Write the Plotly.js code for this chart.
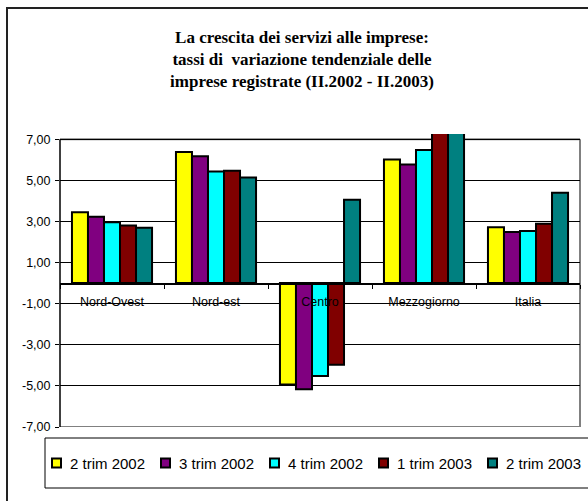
<!DOCTYPE html>
<html>
<head>
<meta charset="utf-8">
<script src="https://cdn.plot.ly/plotly-3.0.1.min.js"></script>
<style>html,body{margin:0;padding:0;background:#fff;}#chart{width:588px;height:501px;}</style>
</head>
<body>
<div id="chart"></div>
<script>
// ---- data ----
var categories = ['Nord-Ovest', 'Nord-est', 'Centro', 'Mezzogiorno', 'Italia'];
var seriesNames = ['2 trim 2002', '3 trim 2002', '4 trim 2002', '1 trim 2003', '2 trim 2003'];
var trim2_2002 = [3.45, 6.38, -4.93, 6.01, 2.72];
var trim3_2002 = [3.22, 6.17, -5.17, 5.77, 2.48];
var trim4_2002 = [2.96, 5.43, -4.52, 6.47, 2.53];
var trim1_2003 = [2.80, 5.46, -3.97, 7.60, 2.88];
var trim2_2003 = [2.69, 5.13, 4.05, 7.90, 4.39];
var yTickVals = [-7, -5, -3, -1, 1, 3, 5, 7];
var yTickText = ['-7,00', '-5,00', '-3,00', '-1,00', '1,00', '3,00', '5,00', '7,00'];
var titleLines = ['La crescita dei servizi alle imprese:', 'tassi di&nbsp; variazione tendenziale delle', 'imprese registrate (II.2002 - II.2003)'];

var seriesValues = [trim2_2002, trim3_2002, trim4_2002, trim1_2003, trim2_2003];
var colors = ['#FFFF00', '#800080', '#00FFFF', '#800000', '#008080'];

// ---- geometry (pixels) ----
var W = 588, H = 501;
var mL = 60, mR = 8, mT = 134, mB = 74;
var pw = W - mL - mR, ph = H - mT - mB;
var yMin = -7, yMax = 7.25;
function px2x(p) { return (p - mL) / pw; }
function px2y(p) { return (H - mB - p) / ph; }

var traces = seriesValues.map(function (vals, i) {
  return {
    type: 'bar',
    name: seriesNames[i],
    x: categories,
    y: vals,
    marker: { color: colors[i], line: { color: '#000', width: 2 } },
    hoverinfo: 'x+y+name'
  };
});

var sans = 'Liberation Sans, Arial, sans-serif';

var shapes = [
  // plot area border (grey top/right/bottom)
  { type: 'line', xref: 'paper', yref: 'y', x0: 0, x1: 1, y0: 7, y1: 7, line: { color: '#808080', width: 2 }, layer: 'below' },
  { type: 'line', xref: 'paper', yref: 'y', x0: 1, x1: 1, y0: -7, y1: 7, line: { color: '#808080', width: 2 }, layer: 'below' },
  { type: 'line', xref: 'paper', yref: 'y', x0: 0, x1: 1, y0: -7, y1: -7, line: { color: '#808080', width: 2 }, layer: 'below' },
  // left value axis line
  { type: 'line', xref: 'paper', yref: 'y', x0: 0, x1: 0, y0: -7, y1: 7, line: { color: '#000', width: 1.5 } },
  // legend box
  { type: 'rect', xref: 'paper', yref: 'paper', x0: px2x(45), x1: px2x(620), y0: px2y(488), y1: px2y(438), line: { color: '#000', width: 1 }, fillcolor: 'rgba(0,0,0,0)' },
  // outer chart frame
  { type: 'rect', xref: 'paper', yref: 'paper', x0: px2x(7), x1: px2x(650), y0: px2y(560), y1: px2y(8), line: { color: '#222', width: 2 }, fillcolor: 'rgba(0,0,0,0)' }
];
var annotations = [];

// legend entries (built from the series names and colours)
var legY = 463, legStep = 109, legSq0 = 52, legTxt0 = 68, sq = 9;
seriesNames.forEach(function (nm, i) {
  var sx = legSq0 + legStep * i;
  shapes.push({ type: 'rect', xref: 'paper', yref: 'paper',
    x0: px2x(sx), x1: px2x(sx + sq), y0: px2y(legY + sq / 2), y1: px2y(legY - sq / 2),
    fillcolor: colors[i], line: { color: '#000', width: 2 } });
  annotations.push({ xref: 'paper', yref: 'paper', x: px2x(legTxt0 + legStep * i), y: px2y(legY),
    xanchor: 'left', yanchor: 'middle', showarrow: false, text: nm,
    font: { family: sans, size: 15, color: '#000' } });
});

var layout = {
  width: W, height: H,
  margin: { l: mL, r: mR, t: mT, b: mB, pad: 0 },
  paper_bgcolor: '#fff', plot_bgcolor: 'rgba(0,0,0,0)',
  barmode: 'group', bargap: 0.23, bargroupgap: 0,
  title: {
    text: '<b>' + titleLines.join('<br>') + '</b>',
    font: { family: 'Liberation Serif, Times New Roman, serif', size: 17, color: '#000' },
    xref: 'container', x: 302 / W, xanchor: 'center',
    yref: 'container', y: 1 - 43 / H, yanchor: 'top'
  },
  xaxis: {
    type: 'category',
    anchor: 'free', position: (0 - yMin) / (yMax - yMin),
    showline: true, linecolor: '#000', linewidth: 1.5,
    ticks: 'outside', tickson: 'boundaries', ticklen: 4, tickcolor: '#000', tickwidth: 1,
    showgrid: false, zeroline: false,
    tickfont: { family: sans, size: 12.5, color: '#000' },
    ticklabelstandoff: 6,
    fixedrange: true
  },
  yaxis: {
    range: [yMin, yMax],
    tickvals: yTickVals, ticktext: yTickText,
    showgrid: true, gridcolor: '#000', gridwidth: 1,
    zeroline: false, showline: false,
    ticks: 'outside', ticklen: 4, tickcolor: '#000',
    tickfont: { family: sans, size: 12.5, color: '#000' },
    ticklabelstandoff: 2,
    fixedrange: true
  },
  showlegend: false,
  shapes: shapes,
  annotations: annotations
};

Plotly.newPlot('chart', traces, layout, { displayModeBar: false, staticPlot: true });
</script>
</body>
</html>
